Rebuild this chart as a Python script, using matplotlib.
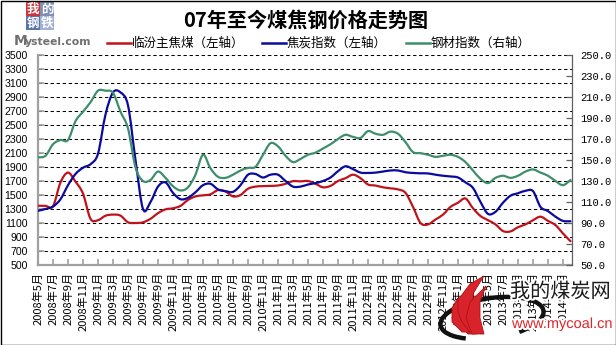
import numpy as np
import matplotlib
matplotlib.use("Agg")
import matplotlib.pyplot as plt
import matplotlib.patheffects as pe
from matplotlib.path import Path
from matplotlib.patches import PathPatch, Rectangle, Arc
from matplotlib.lines import Line2D

plt.rcParams['font.family'] = ['Noto Sans CJK SC', 'DejaVu Sans']

# Monthly categories, May 2008 to April 2014
start_year, start_month, n_months = 2008, 5, 72
months = [f"{start_year + (start_month - 1 + i) // 12}年{(start_month - 1 + i) % 12 + 1}月"
          for i in range(n_months)]
tick_step = 2

# 临汾主焦煤 (yuan/ton, left axis)
linfen_coking_coal = [1346, 1345, 1340, 1680, 1820, 1690, 1520, 1160, 1140, 1204,
                      1220, 1205, 1110, 1100, 1110, 1160, 1240, 1295, 1310, 1345,
                      1430, 1480, 1495, 1510, 1570, 1550, 1480, 1500, 1590, 1620,
                      1627, 1630, 1636, 1660, 1698, 1695, 1700, 1660, 1610, 1630,
                      1700, 1740, 1790, 1740, 1650, 1635, 1610, 1595, 1580, 1530,
                      1330, 1100, 1080, 1150, 1220, 1330, 1390, 1450, 1310, 1200,
                      1140, 1080, 985, 980, 1040, 1080, 1140, 1190, 1130, 1070,
                      950, 840]

# 焦炭指数 (left axis)
coke_index = [1275, 1300, 1335, 1440, 1640, 1800, 1890, 1940, 2090, 2650,
              2965, 2965, 2780, 2000, 1300, 1400, 1620, 1680, 1530, 1440,
              1460, 1540, 1640, 1660, 1580, 1555, 1545, 1640, 1790, 1800,
              1750, 1790, 1790, 1700, 1620, 1620, 1650, 1670, 1700, 1750,
              1840, 1910, 1870, 1820, 1815, 1820, 1835, 1850, 1850, 1825,
              1815, 1810, 1808, 1790, 1775, 1765, 1750, 1680, 1600, 1400,
              1230, 1260, 1390, 1490, 1525, 1560, 1555, 1330, 1270, 1190,
              1130, 1125]

# 钢材指数 (right axis)
steel_index = [152.5, 154, 165, 169, 169, 187, 196, 205, 216, 216,
               214, 196, 180, 143, 130, 131, 139, 133, 125, 121,
               124, 136, 155, 142, 134, 133, 136, 140, 142.5, 143.5,
               155, 166, 163, 154, 148, 151, 155, 157, 161, 165,
               170, 174, 172, 171, 177.5, 175, 174, 177, 175, 167,
               157.5, 156.5, 155, 153, 154, 155, 153, 148, 140, 132,
               128, 133, 135, 133, 135, 139, 141, 138, 135, 130,
               126, 131]

left_ticks = list(range(500, 3501, 200))
right_ticks = list(range(50, 251, 20))

RED = '#C0141C'
BLUE = '#0A0A9E'
GREEN = '#3E8E6C'
AXIS_GRAY = '#A0A0A0'


def smooth_path(xs, ys):
    """Cubic Bezier path through every point (spreadsheet-style smoothed line)."""
    xs = np.asarray(xs, float)
    ys = np.asarray(ys, float)
    n = len(xs)
    verts = [(xs[0], ys[0])]
    codes = [Path.MOVETO]
    for i in range(n - 1):
        i0, i3 = max(i - 1, 0), min(i + 2, n - 1)
        c1 = (xs[i] + (xs[i + 1] - xs[i0]) / 6, ys[i] + (ys[i + 1] - ys[i0]) / 6)
        c2 = (xs[i + 1] - (xs[i3] - xs[i]) / 6, ys[i + 1] - (ys[i3] - ys[i]) / 6)
        verts += [c1, c2, (xs[i + 1], ys[i + 1])]
        codes += [Path.CURVE4] * 3
    return Path(verts, codes)


W, H = 616, 345
fig = plt.figure(figsize=(W / 100, H / 100), dpi=100)
fig.patch.set_facecolor('white')

x0, x1, y0, y1 = 38, 572, 55, 265
ax = fig.add_axes([x0 / W, 1 - y1 / H, (x1 - x0) / W, (y1 - y0) / H])
ax.set_xlim(0, n_months - 0.8)
ax.set_ylim(left_ticks[0], left_ticks[-1])
ax2 = ax.twinx()
ax2.set_ylim(right_ticks[0], right_ticks[-1])

# dashed horizontal grid at the left-axis ticks
for v in left_ticks[1:]:
    ax.axhline(v, color='black', lw=0.75, linestyle=(0, (3.2, 2.6)), zorder=1)

xs = np.arange(n_months)
ax.add_patch(PathPatch(smooth_path(xs, linfen_coking_coal), fill=False,
                       edgecolor=RED, lw=1.6, zorder=3, capstyle='round'))
ax.add_patch(PathPatch(smooth_path(xs, coke_index), fill=False,
                       edgecolor=BLUE, lw=1.6, zorder=3, capstyle='round'))
ax2.add_patch(PathPatch(smooth_path(xs, steel_index), fill=False,
                        edgecolor=GREEN, lw=1.6, zorder=3, capstyle='round'))

# spines
ax.spines['top'].set_visible(False)
ax2.spines['top'].set_visible(False)
ax.spines['left'].set_color(AXIS_GRAY)
ax.spines['left'].set_linewidth(1.6)
ax.spines['bottom'].set_color(AXIS_GRAY)
ax.spines['bottom'].set_linewidth(1.6)
ax.spines['right'].set_visible(False)
ax2.spines['left'].set_visible(False)
ax2.spines['bottom'].set_visible(False)
ax2.spines['right'].set_color('#606060')
ax2.spines['right'].set_linewidth(0.9)

# left axis
ax.set_yticks(left_ticks)
ax.set_yticklabels([str(v) for v in left_ticks], fontfamily='Liberation Sans', fontsize=7.6)
ax.tick_params(axis='y', direction='in', length=4, width=1.2, color=AXIS_GRAY, pad=7.5)

# right axis
ax2.set_yticks(right_ticks)
ax2.set_yticklabels([f"{v:.1f}" for v in right_ticks], fontfamily='Liberation Mono', fontsize=7.6)
ax2.tick_params(axis='y', direction='in', length=4, width=0.9, color='#606060', pad=6)

# category axis
tick_pos = xs[::tick_step]
ax.set_xticks(tick_pos)
ax.set_xticklabels([months[i] for i in tick_pos], rotation=90, fontsize=8.0,
                   ha='center', va='top')
ax.tick_params(axis='x', direction='in', length=4, width=1.2, color=AXIS_GRAY, pad=5)

# overlay for title, legend and logos (pixel coordinates, y downward)
ov = fig.add_axes([0, 0, 1, 1])
ov.set_xlim(0, W)
ov.set_ylim(H, 0)
ov.axis('off')
ov.patch.set_visible(False)

ov.text(306, 20, '07年至今煤焦钢价格走势图', ha='center', va='center',
        fontsize=14.5, fontweight='bold', color='black')

legend_items = [('临汾主焦煤（左轴）', RED, 107),
                ('焦炭指数（左轴）', BLUE, 262),
                ('钢材指数（右轴）', GREEN, 406)]
for label, col, lx in legend_items:
    ov.add_line(Line2D([lx, lx + 24], [43, 43], color=col, lw=1.8))
    ov.text(lx + 25, 43, label, ha='left', va='center', fontsize=9, color='black')

# Mysteel logo
for (bx, by, ch, col) in [(26, 2, '我', '#D0343A'), (40, 2, '的', '#7F8FB5'),
                          (26, 16, '钢', '#5A74A8'), (40, 16, '铁', '#9FB0D2')]:
    ov.add_patch(Rectangle((bx, by), 14, 14, facecolor=col, edgecolor='none'))
    ov.text(bx + 7, by + 7.5, ch, ha='center', va='center', fontsize=9,
            fontweight='bold', color='white')
ov.text(14, 41, 'M', ha='left', va='center', fontsize=10, fontweight='bold',
        color='#707070', fontfamily='DejaVu Sans')
ov.text(25, 42, 'ysteel.com', ha='left', va='center', fontsize=7.8, fontweight='bold',
        color='#707070', fontfamily='DejaVu Sans')

# mycoal watermark
halo = [pe.withStroke(linewidth=3, foreground='white')]
ov.add_patch(Arc((492, 318), 104, 40, angle=-8, theta1=150, theta2=395,
                 color='#111111', lw=3.2))
flames = [
    [(468, 334), (452, 318), (458, 300), (470, 284), (484, 276),
     (474, 292), (470, 310), (476, 334)],
    [(472, 334), (466, 318), (470, 302), (480, 292), (486, 286),
     (480, 302), (480, 318), (484, 334)],
    [(462, 332), (452, 322), (452, 308), (458, 298), (458, 312),
     (462, 322), (470, 332)],
]
for pts in flames:
    verts = pts + [pts[0]]
    codes = [Path.MOVETO] + [Path.LINETO] * (len(pts) - 1) + [Path.CLOSEPOLY]
    ov.add_patch(PathPatch(Path(verts, codes), facecolor='#D8232A',
                           edgecolor='#B01018', lw=0.6, joinstyle='round'))
ov.text(510, 292, '我的煤炭网', ha='left', va='center', fontsize=14.5,
        color='#1A1A1A', path_effects=halo)
ov.text(512, 324, 'www.mycoal.cn', ha='left', va='center', fontsize=10.5,
        color='#E0242A', fontfamily='Liberation Sans', path_effects=halo)

# outer frame
ov.add_patch(Rectangle((0.5, 0.5), W - 1, H - 1, fill=False, edgecolor='black', lw=1.0))

fig.savefig('out.png', dpi=100)
